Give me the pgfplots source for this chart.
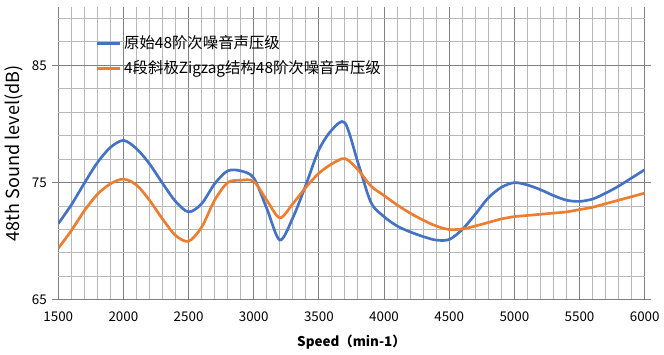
\documentclass[border=0pt]{standalone}
\usepackage{fontspec}
\setmainfont{Noto Sans CJK SC}
\usepackage{pgfplots}
\pgfplotsset{compat=1.18}
\definecolor{cblue}{HTML}{4472C4}
\definecolor{corange}{HTML}{ED7D31}
\begin{document}
\begin{tikzpicture}
\begin{axis}[
  scale only axis,
  width=438pt, height=219pt,
  xmin=1500, xmax=6000, ymin=65, ymax=90,
  xtick={1500,2000,...,6000},
  minor xtick={1600,1700,...,5900},
  ytick={65,75,85},
  minor ytick={67,69,71,73,77,79,81,83,87,89},
  grid=both,
  major grid style={draw=black!50, line width=0.75pt},
  minor grid style={draw=black!28, line width=0.75pt},
  axis line style={draw=none},
  xtick style={draw=none},
  minor tick length=0pt,
  ytick style={draw=black!50, line width=0.75pt},
  major tick length=5pt,
  tick align=outside,
  /pgf/number format/assume math mode=true,
  /pgf/number format/1000 sep={},
  ticklabel style={font=\fontsize{10}{12}\selectfont},
  xlabel={\textbf{Speed（min-1）}},
  xlabel style={font=\fontsize{10}{12}\selectfont, at={(axis description cs:0.5,-0.105)}, anchor=north},
  ylabel={48th Sound level(dB)},
  ylabel style={font=\fontsize{13.5}{15}\selectfont},
  legend style={draw=none, fill=none, at={(0.057,0.92)}, anchor=north west,
    font=\fontsize{11.5}{13}\selectfont, row sep=3.5pt, cells={anchor=west}},
  legend cell align=left,
]
\addplot[cblue, line width=2pt, smooth, tension=0.5] coordinates {
(1500,71.5) (1600,73.1) (1700,74.95) (1800,76.7) (1900,78.0) (2000,78.6)
(2100,77.9) (2200,76.6) (2300,74.95) (2400,73.4) (2500,72.5)
(2600,73.2) (2700,74.9) (2800,76.0) (2900,76.0) (3000,75.4)
(3100,72.8) (3200,70.1) (3300,72.0) (3400,74.8) (3500,77.8)
(3600,79.5) (3700,80.1) (3800,76.7) (3900,73.3) (4000,72.1)
(4100,71.3) (4200,70.8) (4300,70.4) (4400,70.1) (4500,70.15)
(4600,71.0) (4700,72.3) (4800,73.7) (4900,74.6) (5000,75.0)
(5100,74.8) (5200,74.4) (5300,73.9) (5400,73.5) (5500,73.4)
(5600,73.6) (5700,74.1) (5800,74.7) (5900,75.4) (6000,76.1)
};
\addlegendentry{原始48阶次噪音声压级}
\addplot[corange, line width=2pt, smooth, tension=0.5] coordinates {
(1500,69.4) (1600,70.9) (1700,72.6) (1800,74.0) (1900,74.9) (2000,75.3)
(2100,74.8) (2200,73.5) (2300,71.9) (2400,70.5) (2500,70.0)
(2600,71.2) (2700,73.5) (2800,75.0) (2900,75.2) (3000,75.1)
(3100,73.5) (3200,72.0) (3300,73.2) (3400,74.6) (3500,75.8)
(3600,76.6) (3700,77.05) (3800,76.1) (3900,74.7) (4000,73.9)
(4100,73.1) (4200,72.4) (4300,71.8) (4400,71.3) (4500,71.0)
(4600,71.05) (4700,71.3) (4800,71.6) (4900,71.9) (5000,72.1)
(5100,72.2) (5200,72.3) (5300,72.4) (5400,72.5) (5500,72.7)
(5600,72.9) (5700,73.2) (5800,73.5) (5900,73.8) (6000,74.1)
};
\addlegendentry{4段斜极Zigzag结构48阶次噪音声压级}
\end{axis}
\end{tikzpicture}
\end{document}
